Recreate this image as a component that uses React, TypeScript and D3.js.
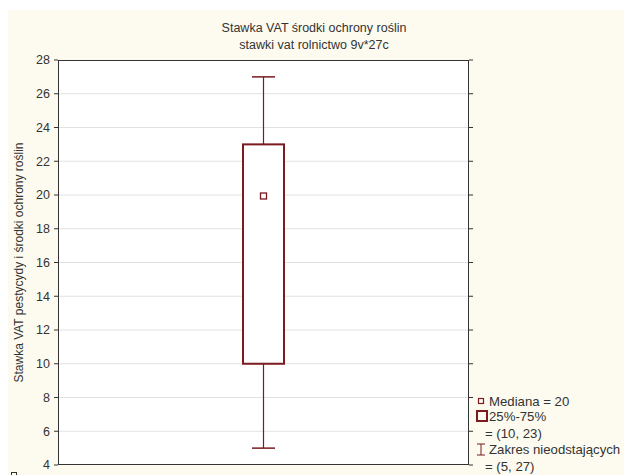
import React from "react";
import * as d3 from "d3";

const titleLines = ["Stawka VAT środki ochrony roślin", "stawki vat rolnictwo 9v*27c"];
const yLabel = "Stawka VAT pestycydy i środki ochrony roślin";
const categories = ["stawki vat rolnictwo 9v*27c"];
const medians = [20];
const q1s = [10];
const q3s = [23];
const mins = [5];
const maxs = [27];
const yTicks = [4, 6, 8, 10, 12, 14, 16, 18, 20, 22, 24, 26, 28];
const legendLabels = ["Mediana = 20", "25%-75%", "= (10, 23)", "Zakres nieodstających", "= (5, 27)"];

const W = 624, H = 475;
const plot = { left: 58, right: 469, top: 60, bottom: 465 };
const boxColor = "#7b1a1f";
const textColor = "#333";
const font = "'Liberation Sans', Arial, sans-serif";

export default function App() {
  const y = d3.scaleLinear().domain([4, 28]).range([plot.bottom, plot.top]);
  const x = d3.scaleBand().domain(categories).range([plot.left, plot.right]).padding(0.45);
  const boxW = 41;
  const capW = 23;
  return (
    <svg width={W} height={H} style={{ position: "absolute", left: 0, top: 0 }} fontFamily={font}>
      <rect x={8} y={10} width={W - 8} height={H - 10} fill="#fdfbf0" />
      <rect x={plot.left} y={plot.top} width={plot.right - plot.left} height={plot.bottom - plot.top} fill="#ffffff" />
      {yTicks.map((t) => (
        <g key={t}>
          {t > 4 && t < 28 && (
            <line x1={plot.left} x2={plot.right} y1={y(t)} y2={y(t)} stroke="#e2e2e2" strokeWidth={1} />
          )}
          <line x1={plot.left - 4} x2={plot.left} y1={y(t)} y2={y(t)} stroke="#333" strokeWidth={1} />
          <line x1={plot.right} x2={plot.right + 4} y1={y(t)} y2={y(t)} stroke="#333" strokeWidth={1} />
          <text x={plot.left - 8} y={y(t)} dy="0.35em" textAnchor="end" fontSize={12.5} fill={textColor}>
            {t}
          </text>
        </g>
      ))}
      <rect
        x={plot.left + 0.5}
        y={plot.top + 0.5}
        width={plot.right - plot.left - 1}
        height={plot.bottom - plot.top - 1}
        fill="none"
        stroke="#333"
        strokeWidth={1}
      />
      {categories.map((c, i) => {
        const cx = (x(c) as number) + x.bandwidth() / 2;
        return (
          <g key={c}>
            <line x1={cx} x2={cx} y1={y(maxs[i])} y2={y(q3s[i])} stroke={boxColor} strokeWidth={1.2} />
            <line x1={cx} x2={cx} y1={y(q1s[i])} y2={y(mins[i])} stroke={boxColor} strokeWidth={1.2} />
            <line x1={cx - capW / 2} x2={cx + capW / 2} y1={y(maxs[i])} y2={y(maxs[i])} stroke={boxColor} strokeWidth={1.5} />
            <line x1={cx - capW / 2} x2={cx + capW / 2} y1={y(mins[i])} y2={y(mins[i])} stroke={boxColor} strokeWidth={1.5} />
            <rect
              x={cx - boxW / 2}
              y={y(q3s[i])}
              width={boxW}
              height={y(q1s[i]) - y(q3s[i])}
              fill="#ffffff"
              stroke={boxColor}
              strokeWidth={2}
            />
            <rect x={cx - 3} y={y(medians[i]) - 2} width={6} height={6} fill="none" stroke={boxColor} strokeWidth={1.3} />
          </g>
        );
      })}
      {titleLines.map((t, i) => (
        <text key={i} x={314} y={28 + i * 17} dy="0.35em" textAnchor="middle" fontSize={12.5} fill={textColor}>
          {t}
        </text>
      ))}
      <text
        transform={`translate(19,${(plot.top + plot.bottom) / 2}) rotate(-90)`}
        textAnchor="middle"
        dy="0.35em"
        fontSize={12}
        fill={textColor}
      >
        {yLabel}
      </text>
      {/* legend */}
      <rect x={478.5} y={398.5} width={5} height={5} fill="none" stroke={boxColor} strokeWidth={1.2} />
      <text x={489} y={401} dy="0.35em" fontSize={13.2} fill={textColor}>{legendLabels[0]}</text>
      <rect x={477} y={411} width={10} height={10} fill="none" stroke={boxColor} strokeWidth={2} />
      <text x={489} y={416} dy="0.35em" fontSize={13.2} fill={textColor}>{legendLabels[1]}</text>
      <text x={485} y={433} dy="0.35em" fontSize={13.2} fill={textColor}>{legendLabels[2]}</text>
      <line x1={481} x2={481} y1={444} y2={455} stroke={boxColor} strokeWidth={1} />
      <line x1={477} x2={485} y1={444} y2={444} stroke={boxColor} strokeWidth={1} />
      <line x1={477} x2={485} y1={455} y2={455} stroke={boxColor} strokeWidth={1} />
      <text x={489} y={449} dy="0.35em" fontSize={13.2} fill={textColor}>{legendLabels[3]}</text>
      <text x={485} y={466} dy="0.35em" fontSize={13.2} fill={textColor}>{legendLabels[4]}</text>
      <rect x={11.5} y={472.5} width={5} height={5} fill="none" stroke="#333" strokeWidth={1} />
    </svg>
  );
}
